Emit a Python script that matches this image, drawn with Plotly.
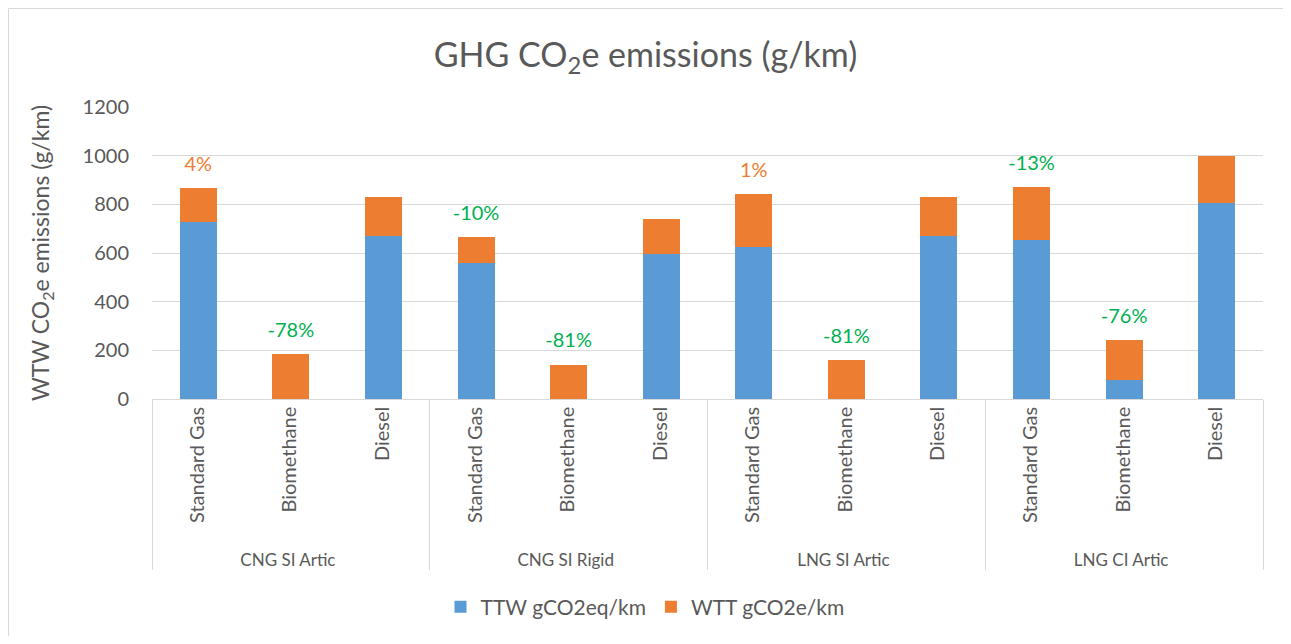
import plotly.graph_objects as go

groups = ["CNG SI Artic", "CNG SI Rigid", "LNG SI Artic", "LNG CI Artic"]
fuels = ["Standard Gas", "Biomethane", "Diesel"]

ttw = [726, 0, 671,
       558, 0, 597,
       626, 0, 670,
       653, 79, 807]
wtt = [141, 185, 159,
       108, 141, 144,
       217, 159, 159,
       217, 162, 193]
pct_labels = ["4%", "-78%", "",
              "-10%", "-81%", "",
              "1%", "-81%", "",
              "-13%", "-76%", ""]

BLUE = "#5B9BD5"
ORANGE = "#ED7D31"
GREEN = "#00B050"
GREY = "#595959"
FONT = "Lato"

# sub-category labels drawn a little larger than group labels,
# with leading padding so the group row sits a bit lower
def sub_label(s):
    return "<span style='font-size:20px'>\u00a0\u00a0" + s + "</span>"

x_grp = [g for g in groups for _ in fuels]
x_sub = [sub_label(f) for _ in groups for f in fuels]
totals = [a + b for a, b in zip(ttw, wtt)]

def pct_color(s):
    return ORANGE if not s.startswith("-") else GREEN

# only the bars that carry a percentage label
idx = [i for i, s in enumerate(pct_labels) if s]
lab_grp = [x_grp[i] for i in idx]
lab_sub = [x_sub[i] for i in idx]
lab_y = [totals[i] for i in idx]
lab_txt = [pct_labels[i] for i in idx]

fig = go.Figure()
fig.add_trace(go.Bar(x=[x_grp, x_sub], y=ttw, name="TTW gCO2eq/km",
                     marker=dict(color=BLUE, line=dict(width=0))))
fig.add_trace(go.Bar(x=[x_grp, x_sub], y=wtt, name="WTT gCO2e/km",
                     marker=dict(color=ORANGE, line=dict(width=0))))
fig.add_trace(go.Scatter(x=[lab_grp, lab_sub], y=lab_y, mode="markers+text",
                         text=lab_txt, textposition="top center",
                         marker=dict(size=18, color="rgba(0,0,0,0)"),
                         textfont=dict(family=FONT, size=20,
                                       color=[pct_color(s) for s in lab_txt]),
                         showlegend=False, hoverinfo="skip"))

# page body adds an 8px margin; size the figure to fit the window exactly
OFF = 8
W, H = 1291 - 2 * OFF, 644 - 2 * OFF
L = 152 - OFF
T = 107 - OFF
R = W - (1263 - OFF)
B = H - (399 - OFF)
pw, ph = W - L - R, H - T - B

def px_x(p):  # screenshot px -> paper x
    return (p - OFF - L) / pw

def px_y(p):  # screenshot px -> paper y
    return (H - B - (p - OFF)) / ph

fig.update_layout(
    width=W, height=H,
    margin=dict(l=L, r=R, t=T, b=B, autoexpand=False),
    barmode="stack", bargap=0.6,
    plot_bgcolor="white", paper_bgcolor="white",
    font=dict(family=FONT, color=GREY),
    title=dict(text="GHG CO<sub>2</sub>e emissions (g/km)", x=0.5, xref="container",
               y=1 - (55 - OFF) / H, yanchor="middle", yref="container",
               font=dict(family=FONT, size=34, color=GREY)),
    yaxis=dict(range=[0, 1200], dtick=200, gridcolor="#D9D9D9", gridwidth=1,
               zeroline=False, showline=False, ticks="", automargin=False,
               ticklabelstandoff=22,
               tickfont=dict(family=FONT, size=20, color=GREY),
               title=dict(text="WTW CO<sub>2</sub>e emissions (g/km)",
                          font=dict(family=FONT, size=23, color=GREY), standoff=26)),
    xaxis=dict(type="multicategory", range=[-0.5, 11.5], tickangle=-90, showline=True,
               linecolor="#D9D9D9", linewidth=1, showdividers=True,
               dividercolor="#D9D9D9", dividerwidth=1, automargin=False,
               categoryorder="array", categoryarray=[x_grp, x_sub],
               tickfont=dict(family=FONT, size=17, color=GREY)),
    legend=dict(orientation="h", x=px_x(645), xanchor="center", y=px_y(607), yanchor="middle",
                font=dict(family=FONT, size=21, color=GREY), itemwidth=30,
                traceorder="normal"),
    shapes=[dict(type="rect", xref="paper", yref="paper",
                 x0=px_x(OFF + 0.5), x1=px_x(1400), y0=px_y(800), y1=px_y(OFF + 0.5),
                 line=dict(color="#D9D9D9", width=1), fillcolor="rgba(0,0,0,0)",
                 layer="below")],
)

fig.write_html("out.html")
